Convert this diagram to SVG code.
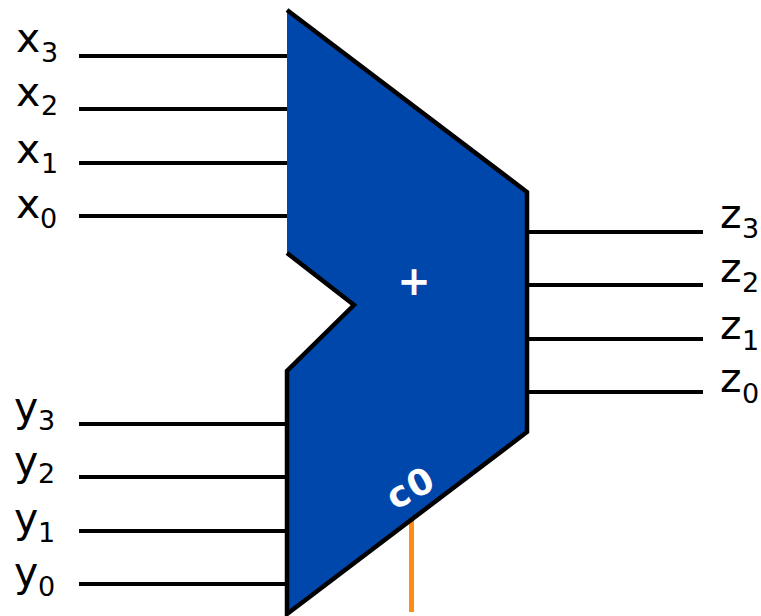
<svg xmlns="http://www.w3.org/2000/svg" width="761" height="616" viewBox="0 0 761 616">
<style>
.w{stroke:#000;stroke-width:4;fill:none}
.t{font-family:"DejaVu Sans","Liberation Sans",sans-serif;font-size:41px;fill:#000}
.s{font-family:"DejaVu Sans","Liberation Sans",sans-serif;font-size:27px;fill:#000}
.l{font-family:"DejaVu Sans","Liberation Sans",sans-serif;font-weight:bold;fill:#fff}
</style>
<rect width="761" height="616" fill="#fff"/>
<g id="connectors">
<path class="w" d="M79 56H287M79 109H287M79 163H287M79 216H287M79 424H287M79 477H287M79 531H287M79 584H287M527 232H703M527 285H703M527 339H703M527 392H703"/>
<path d="M411.500 520V612" stroke="#ff8c14" stroke-width="5" fill="none"/>
</g>
<g id="adder">
<path d="M287 10L527 192V432L287 614V371L354 305L287 253Z" fill="#0047ab"/>
<path d="M287 10L527 192V432L287 614V371L354 305L287 253" fill="none" stroke="#000" stroke-width="4.500"/>
<text class="l" x="414" y="295" font-size="40" text-anchor="middle">+</text>
<text class="l" x="411" y="500" font-size="36" letter-spacing="2" text-anchor="middle" transform="rotate(-28 411 488)">c0</text>
</g>
<g id="x3"><text class="t" x="16" y="52">x</text><text class="s" x="41" y="62">3</text></g>
<g id="x2"><text class="t" x="16" y="106">x</text><text class="s" x="41" y="115">2</text></g>
<g id="x1"><text class="t" x="16" y="163">x</text><text class="s" x="41" y="173">1</text></g>
<g id="x0"><text class="t" x="16" y="218">x</text><text class="s" x="40" y="228">0</text></g>
<g id="y3"><text class="t" x="14" y="421">y</text><text class="s" x="38" y="430">3</text></g>
<g id="y2"><text class="t" x="14" y="475">y</text><text class="s" x="38" y="483">2</text></g>
<g id="y1"><text class="t" x="14" y="532">y</text><text class="s" x="38" y="542">1</text></g>
<g id="y0"><text class="t" x="14" y="586">y</text><text class="s" x="38" y="596">0</text></g>
<g id="z3"><text class="t" x="720" y="228">z</text><text class="s" x="742" y="238">3</text></g>
<g id="z2"><text class="t" x="720" y="282">z</text><text class="s" x="742" y="292">2</text></g>
<g id="z1"><text class="t" x="720" y="339">z</text><text class="s" x="742" y="350">1</text></g>
<g id="z0"><text class="t" x="720" y="392">z</text><text class="s" x="742" y="403">0</text></g>
</svg>
